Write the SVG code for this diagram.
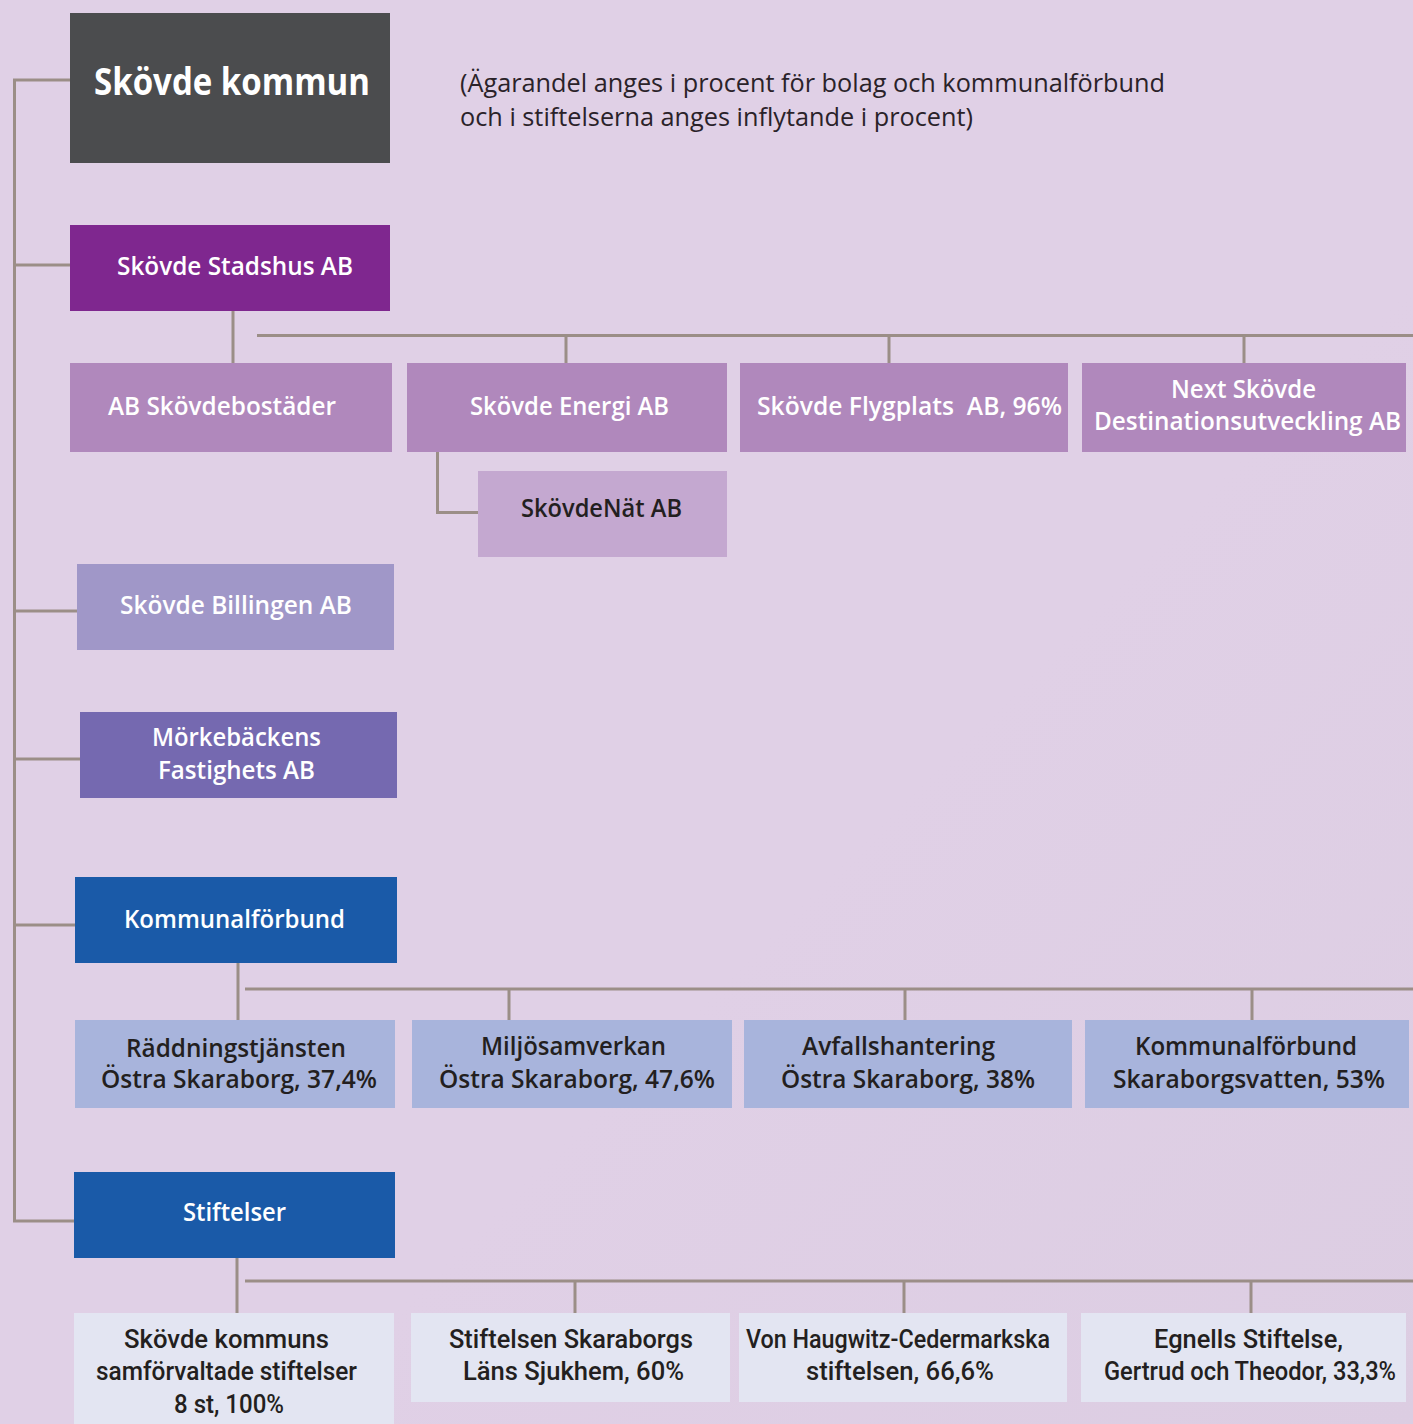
<svg xmlns="http://www.w3.org/2000/svg" width="1413" height="1424" viewBox="0 0 1413 1424">
<defs>
<linearGradient id="bg" x1="0" y1="0" x2="1" y2="1">
<stop offset="0" stop-color="#e0d0e6"/>
<stop offset="0.6" stop-color="#e0d0e6"/>
<stop offset="1" stop-color="#dccde2"/>
</linearGradient>
<style>
.t{font-family:"Open Sans","Noto Sans","Liberation Sans",sans-serif;font-weight:600;font-size:25px}
.n{font-family:Roboto,"Liberation Sans",sans-serif;font-weight:500;font-size:25px;fill:#231f20}
.w{fill:#ffffff}
.d{fill:#231f20}
.c{stroke:#9b8e87;stroke-width:3;fill:none}
.note{font-family:"Open Sans","Noto Sans","Liberation Sans",sans-serif;font-weight:400;font-size:25px;fill:#2a2229}
</style>
</defs>
<rect x="0" y="0" width="1413" height="1424" fill="url(#bg)"/>

<g id="connectors">
<polyline class="c" points="70,80 14.5,80 14.5,1221 74,1221"/>
<line class="c" x1="14.5" y1="265" x2="70" y2="265"/>
<line class="c" x1="14.5" y1="611" x2="77" y2="611"/>
<line class="c" x1="14.5" y1="759" x2="80" y2="759"/>
<line class="c" x1="14.5" y1="925" x2="75" y2="925"/>
<line class="c" x1="233" y1="311" x2="233" y2="363"/>
<line class="c" x1="257" y1="335.5" x2="1413" y2="335.5"/>
<line class="c" x1="566" y1="335.5" x2="566" y2="363"/>
<line class="c" x1="889" y1="335.5" x2="889" y2="363"/>
<line class="c" x1="1244" y1="335.5" x2="1244" y2="363"/>
<polyline class="c" points="437.5,452 437.5,512.5 478,512.5"/>
<line class="c" x1="238" y1="963" x2="238" y2="1020"/>
<line class="c" x1="245" y1="989" x2="1413" y2="989"/>
<line class="c" x1="509" y1="989" x2="509" y2="1020"/>
<line class="c" x1="905" y1="989" x2="905" y2="1020"/>
<line class="c" x1="1252" y1="989" x2="1252" y2="1020"/>
<line class="c" x1="237" y1="1258" x2="237" y2="1313"/>
<line class="c" x1="245" y1="1281" x2="1413" y2="1281"/>
<line class="c" x1="575" y1="1281" x2="575" y2="1313"/>
<line class="c" x1="904" y1="1281" x2="904" y2="1313"/>
<line class="c" x1="1251" y1="1281" x2="1251" y2="1313"/>
</g>

<g id="skovde-kommun">
<rect x="70" y="13" width="320" height="150" fill="#4b4c4e"/>
<text class="t w" x="94" y="95" style="font-size:37px;font-weight:700" textLength="276" lengthAdjust="spacingAndGlyphs">Skövde kommun</text>
</g>

<g id="note">
<text class="note" x="460" y="92" textLength="705" lengthAdjust="spacingAndGlyphs">(Ägarandel anges i procent för bolag och kommunalförbund</text>
<text class="note" x="460" y="126" textLength="513" lengthAdjust="spacingAndGlyphs">och i stiftelserna anges inflytande i procent)</text>
</g>

<g id="stadshus">
<rect x="70" y="225" width="320" height="86" fill="#7f278f"/>
<text class="t w" x="117" y="275" textLength="236" lengthAdjust="spacingAndGlyphs">Skövde Stadshus AB</text>
</g>

<g id="skovdebostader">
<rect x="70" y="363" width="322" height="89" fill="#b088bc"/>
<text class="t w" x="108" y="415" textLength="228" lengthAdjust="spacingAndGlyphs">AB Skövdebostäder</text>
</g>

<g id="energi">
<rect x="407" y="363" width="320" height="89" fill="#b088bc"/>
<text class="t w" x="470" y="415" textLength="199" lengthAdjust="spacingAndGlyphs">Skövde Energi AB</text>
</g>

<g id="flygplats">
<rect x="740" y="363" width="328" height="89" fill="#b088bc"/>
<text class="t w" x="757" y="415" style="white-space:pre" textLength="305" lengthAdjust="spacingAndGlyphs">Skövde Flygplats  AB, 96%</text>
</g>

<g id="next">
<rect x="1082" y="363" width="324" height="89" fill="#b088bc"/>
<text class="t w" x="1171" y="398" textLength="145" lengthAdjust="spacingAndGlyphs">Next Skövde</text>
<text class="t w" x="1094" y="430" textLength="307" lengthAdjust="spacingAndGlyphs">Destinationsutveckling AB</text>
</g>

<g id="skovdenat">
<rect x="478" y="471" width="249" height="86" fill="#c4a8d0"/>
<text class="t d" x="521" y="517" textLength="161" lengthAdjust="spacingAndGlyphs">SkövdeNät AB</text>
</g>

<g id="billingen">
<rect x="77" y="564" width="317" height="86" fill="#a097c8"/>
<text class="t w" x="120" y="614" textLength="232" lengthAdjust="spacingAndGlyphs">Skövde Billingen AB</text>
</g>

<g id="morkebacken">
<rect x="80" y="712" width="317" height="86" fill="#7569b0"/>
<text class="t w" x="152" y="746" textLength="169" lengthAdjust="spacingAndGlyphs">Mörkebäckens</text>
<text class="t w" x="158" y="779" textLength="157" lengthAdjust="spacingAndGlyphs">Fastighets AB</text>
</g>

<g id="kommunalforbund">
<rect x="75" y="877" width="322" height="86" fill="#1a5aa8"/>
<text class="t w" x="124" y="928" textLength="221" lengthAdjust="spacingAndGlyphs">Kommunalförbund</text>
</g>

<g id="raddning">
<rect x="75" y="1020" width="320" height="88" fill="#a8b4dc"/>
<text class="t d" x="126" y="1057" textLength="220" lengthAdjust="spacingAndGlyphs">Räddningstjänsten</text>
<text class="t d" x="101" y="1088" textLength="276" lengthAdjust="spacingAndGlyphs">Östra Skaraborg, 37,4%</text>
</g>

<g id="miljo">
<rect x="412" y="1020" width="320" height="88" fill="#a8b4dc"/>
<text class="t d" x="481" y="1055" textLength="185" lengthAdjust="spacingAndGlyphs">Miljösamverkan</text>
<text class="t d" x="439" y="1088" textLength="276" lengthAdjust="spacingAndGlyphs">Östra Skaraborg, 47,6%</text>
</g>

<g id="avfall">
<rect x="744" y="1020" width="328" height="88" fill="#a8b4dc"/>
<text class="t d" x="802" y="1055" textLength="193" lengthAdjust="spacingAndGlyphs">Avfallshantering</text>
<text class="t d" x="781" y="1088" textLength="254" lengthAdjust="spacingAndGlyphs">Östra Skaraborg, 38%</text>
</g>

<g id="skaraborgsvatten">
<rect x="1085" y="1020" width="324" height="88" fill="#a8b4dc"/>
<text class="t d" x="1135" y="1055" textLength="222" lengthAdjust="spacingAndGlyphs">Kommunalförbund</text>
<text class="t d" x="1113" y="1088" textLength="272" lengthAdjust="spacingAndGlyphs">Skaraborgsvatten, 53%</text>
</g>

<g id="stiftelser">
<rect x="74" y="1172" width="321" height="86" fill="#1a5aa8"/>
<text class="t w" x="183" y="1221" textLength="103" lengthAdjust="spacingAndGlyphs">Stiftelser</text>
</g>

<g id="samforvaltade">
<rect x="74" y="1313" width="320" height="120" fill="#e3e5f2"/>
<text class="n" x="124" y="1348" textLength="205" lengthAdjust="spacingAndGlyphs">Skövde kommuns</text>
<text class="n" x="96" y="1380" textLength="261" lengthAdjust="spacingAndGlyphs">samförvaltade stiftelser</text>
<text class="n" x="174" y="1413" textLength="110" lengthAdjust="spacingAndGlyphs">8 st, 100%</text>
</g>

<g id="sjukhem">
<rect x="411" y="1313" width="319" height="89" fill="#e3e5f2"/>
<text class="n" x="449" y="1348" textLength="244" lengthAdjust="spacingAndGlyphs">Stiftelsen Skaraborgs</text>
<text class="n" x="463" y="1380" textLength="221" lengthAdjust="spacingAndGlyphs">Läns Sjukhem, 60%</text>
</g>

<g id="haugwitz">
<rect x="739" y="1313" width="328" height="89" fill="#e3e5f2"/>
<text class="n" x="746" y="1348" textLength="304" lengthAdjust="spacingAndGlyphs">Von Haugwitz-Cedermarkska</text>
<text class="n" x="806" y="1380" textLength="188" lengthAdjust="spacingAndGlyphs">stiftelsen, 66,6%</text>
</g>

<g id="egnells">
<rect x="1081" y="1313" width="325" height="89" fill="#e3e5f2"/>
<text class="n" x="1154" y="1348" textLength="189" lengthAdjust="spacingAndGlyphs">Egnells Stiftelse,</text>
<text class="n" x="1104" y="1380" textLength="292" lengthAdjust="spacingAndGlyphs">Gertrud och Theodor, 33,3%</text>
</g>
</svg>
